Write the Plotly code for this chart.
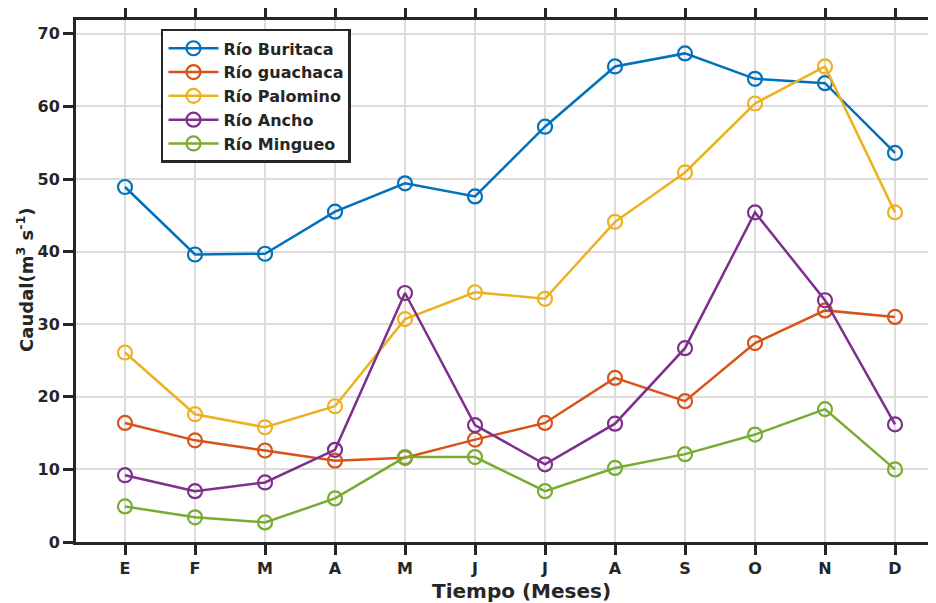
import plotly.graph_objects as go

months = ["E", "F", "M", "A", "M", "J", "J", "A", "S", "O", "N", "D"]
month_pos = list(range(1, 13))

buritaca = [48.9, 39.6, 39.7, 45.5, 49.4, 47.6, 57.2, 65.5, 67.3, 63.8, 63.2, 53.6]
guachaca = [16.4, 14.0, 12.6, 11.2, 11.6, 14.1, 16.4, 22.6, 19.4, 27.4, 31.9, 31.0]
palomino = [26.1, 17.6, 15.8, 18.7, 30.7, 34.4, 33.5, 44.1, 50.9, 60.4, 65.5, 45.4]
ancho = [9.2, 7.0, 8.2, 12.7, 34.3, 16.1, 10.7, 16.3, 26.7, 45.4, 33.3, 16.2]
mingueo = [4.9, 3.4, 2.7, 6.0, 11.7, 11.7, 7.0, 10.2, 12.1, 14.8, 18.3, 10.0]

series = [
    ("Río Buritaca", buritaca, "#0072BD"),
    ("Río guachaca", guachaca, "#D95319"),
    ("Río Palomino", palomino, "#EDB120"),
    ("Río Ancho", ancho, "#7E2F8E"),
    ("Río Mingueo", mingueo, "#77AC30"),
]

fig = go.Figure()
for name, vals, col in series:
    fig.add_trace(go.Scatter(
        x=month_pos, y=vals, name=name, mode="lines+markers",
        line=dict(color=col, width=2.5),
        marker=dict(symbol="circle-open", size=14, color=col, line=dict(width=2.2, color=col)),
    ))

font_fam = "DejaVu Sans, sans-serif"
ink = "#262626"
fig.update_layout(
    width=936, height=603,
    margin=dict(l=68, r=0, t=12, b=69),
    paper_bgcolor="white", plot_bgcolor="white",
    font=dict(family=font_fam, color=ink),
    showlegend=True,
    legend=dict(
        x=0.0979, y=0.983, xanchor="left", yanchor="top",
        bgcolor="white", bordercolor=ink, borderwidth=2.5,
        font=dict(size=16, family=font_fam, color=ink, weight="bold"),
        tracegroupgap=0, itemwidth=50,
    ),
    xaxis=dict(
        range=[0.3, 12.7], tickmode="array", tickvals=month_pos, ticktext=months,
        showgrid=True, gridcolor="#dcdcdc", gridwidth=2,
        showline=True, linecolor=ink, linewidth=3, mirror="ticks",
        ticks="outside", ticklen=10, tickwidth=2.5, tickcolor=ink,
        tickfont=dict(size=16, family=font_fam, color=ink, weight="bold"),
        zeroline=False, automargin=False,
    ),
    yaxis=dict(
        range=[0, 71.9], tickmode="array", tickvals=[0, 10, 20, 30, 40, 50, 60, 70],
        showgrid=True, gridcolor="#dcdcdc", gridwidth=2,
        showline=True, linecolor=ink, linewidth=3, mirror=False,
        ticks="outside", ticklen=10, tickwidth=2.5, tickcolor=ink,
        tickfont=dict(size=16, family=font_fam, color=ink, weight="bold"),
        zeroline=False, automargin=False,
    ),
    annotations=[
        dict(text="<b>Tiempo (Meses)</b>", xref="paper", yref="paper",
             x=0.5138, y=-0.094, xanchor="center", yanchor="middle",
             showarrow=False, font=dict(size=20, family=font_fam, color=ink)),
        dict(text="<b>Caudal(m<sup>3</sup> s<sup>-1</sup>)</b>", xref="paper", yref="paper",
             x=-0.0588, y=0.502, xanchor="center", yanchor="middle", textangle=-90,
             showarrow=False, font=dict(size=18, family=font_fam, color=ink)),
    ],
)

fig.write_html("out.html")
